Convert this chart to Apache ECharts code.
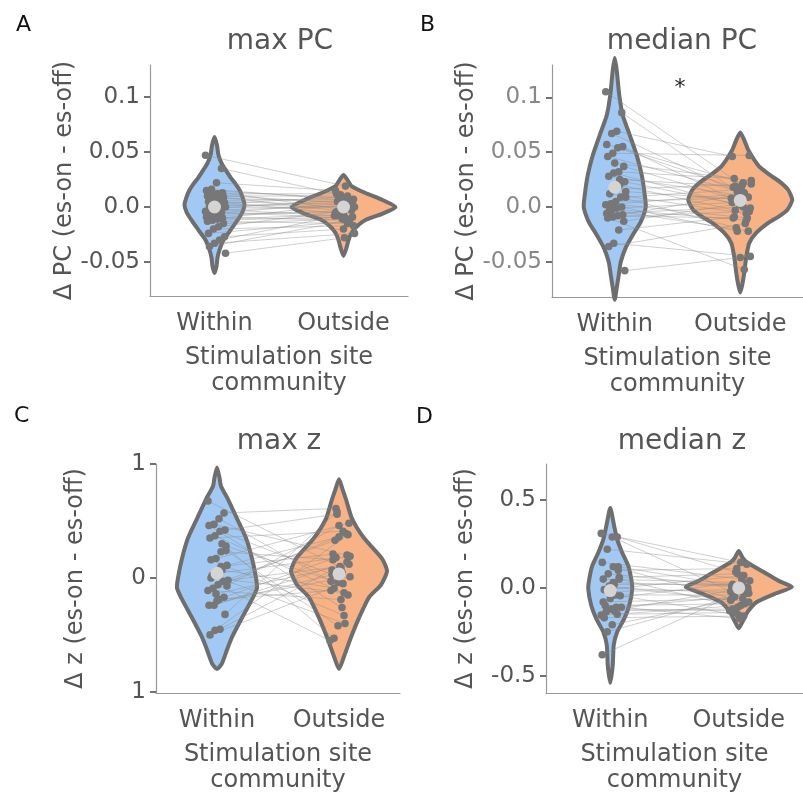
<!DOCTYPE html>
<html>
<head>
<meta charset="utf-8">
<style>
  html, body { margin: 0; padding: 0; background: #fff; }
  #main { width: 803px; height: 795px; }
</style>
<script src="https://cdn.jsdelivr.net/npm/echarts@6/dist/echarts.min.js"></script>
</head>
<body>
<div id="main"></div>
<script>
const categories = ['Within', 'Outside']

// y ticks
const pcTicks = [-0.05, 0, 0.05, 0.1]
const pcTickLabels = ['-0.05', '0.0', '0.05', '0.1']
const maxZTicks = [-1, 0, 1]
const maxZTickLabels = ['1', '0', '1']
const medZTicks = [-0.5, 0, 0.5]
const medZTickLabels = ['-0.5', '0.0', '0.5']

// A: max PC (paired values, es-on minus es-off)
const maxPcWithin = [0.047, 0.035, 0.022, 0.016, 0.015, 0.013, 0.012, 0.011, 0.010, 0.009, 0.008, 0.006, 0.005, 0.004, 0.003, 0.002, 0.001, 0.000, -0.001, -0.002, -0.003, -0.004, -0.005, -0.006, -0.008, -0.009, -0.010, -0.011, -0.012, -0.013, -0.015, -0.018, -0.020, -0.024, -0.027, -0.030, -0.033, -0.036, -0.042]
const maxPcOutside = [0.019, 0.011, 0.015, 0.006, 0.008, -0.002, 0.012, 0.003, 0.010, -0.004, 0.005, 0.007, 0.002, -0.006, 0.009, 0.000, 0.004, -0.001, 0.006, -0.008, 0.001, -0.010, 0.003, -0.005, -0.003, -0.012, 0.002, -0.007, -0.009, -0.015, -0.011, -0.004, -0.017, -0.013, -0.020, -0.008, -0.024, -0.012, -0.028]
const maxPcMeans = [0.000, 0.000]
// violin outlines: value and half width (density)
const maxPcWithinViolinY = [0.0636, 0.056, 0.047, 0.040, 0.034, 0.027, 0.021, 0.0155, 0.009, 0.002, -0.0045, -0.012, -0.021, -0.030, -0.039, -0.046, -0.054, -0.060]
const maxPcWithinViolinW = [0, 2.5, 4, 7, 11, 16, 21, 25, 28, 30, 28, 23, 16, 9, 5, 3, 2, 0]
const maxPcOutsideViolinY = [0.029, 0.0245, 0.019, 0.0127, 0.0064, 0, -0.0064, -0.0118, -0.018, -0.0236, -0.030, -0.037, -0.0445]
const maxPcOutsideViolinW = [0, 4, 8, 22, 39, 52, 38, 22, 13, 8, 5, 3, 0]

// B: median PC
const medPcWithin = [0.105, 0.086, 0.069, 0.067, 0.057, 0.055, 0.054, 0.049, 0.046, 0.037, 0.032, 0.031, 0.028, 0.023, 0.020, 0.016, 0.012, 0.009, 0.009, 0.005, 0.003, 0.002, 0.000, -0.001, -0.003, -0.006, -0.007, -0.008, -0.009, -0.010, -0.013, -0.021, -0.033, -0.036, -0.058, 0.025, 0.040, -0.002, 0.014]
const medPcOutside = [0.020, 0.014, 0.046, 0.009, 0.022, 0.005, 0.018, 0.047, 0.013, 0.006, 0.026, -0.001, 0.010, 0.002, -0.003, 0.021, -0.006, 0.016, -0.019, 0.008, -0.010, 0.012, -0.022, 0.004, -0.022, 0.000, 0.011, -0.010, -0.004, -0.057, 0.003, -0.009, -0.045, -0.015, -0.046, 0.019, 0.024, -0.012, 0.007]
const medPcMeans = [0.018, 0.006]
const medPcWithinViolinY = [0.136, 0.1245, 0.102, 0.0836, 0.0655, 0.047, 0.029, 0.011, 0, -0.0136, -0.0255, -0.037, -0.050, -0.062, -0.0736, -0.0845]
const medPcWithinViolinW = [0, 2, 4.5, 8, 15, 22, 27, 30, 31, 26, 18, 11, 6, 4, 2, 0]
const medPcOutsideViolinY = [0.068, 0.061, 0.052, 0.043, 0.036, 0.029, 0.0227, 0.0155, 0.0064, -0.0027, -0.009, -0.0145, -0.0236, -0.0327, -0.0455, -0.060, -0.071, -0.078]
const medPcOutsideViolinW = [0, 4, 8, 14, 20, 30, 40, 48, 52, 47, 38, 28, 16, 9, 6, 4, 2, 0]

// C: max z
const maxZWithin = [0.675, 0.57, 0.52, 0.47, 0.46, 0.42, 0.41, 0.37, 0.35, 0.28, 0.23, 0.17, 0.16, 0.11, 0.07, 0.04, 0.02, -0.02, -0.03, -0.06, -0.09, -0.11, -0.17, -0.19, -0.24, -0.24, -0.32, -0.45, -0.46, -0.50, 0.24, 0.10, -0.14, 0.00, -0.07, 0.30, -0.20]
const maxZOutside = [0.09, 0.61, -0.03, 0.20, -0.26, 0.56, 0.03, -0.15, 0.41, -0.04, 0.16, 0.48, -0.33, 0.36, -0.09, 0.19, -0.40, 0.10, 0.33, -0.55, 0.39, -0.19, 0.18, -0.11, 0.14, 0.05, 0.58, 0.07, 0.38, -0.05, -0.42, 0.21, 0.12, -0.13, 0.46, -0.53, 0.01]
const maxZMeans = [0.04, 0.035]
const maxZWithinViolinY = [0.97, 0.88, 0.805, 0.69, 0.52, 0.35, 0.17, 0.0, -0.087, -0.17, -0.35, -0.52, -0.63, -0.75, -0.80]
const maxZWithinViolinW = [0, 2.5, 4, 11, 20, 29, 35, 39, 40, 36, 25, 15, 10, 5, 0]
const maxZOutsideViolinY = [0.866, 0.78, 0.69, 0.52, 0.35, 0.17, 0.06, -0.06, -0.17, -0.35, -0.52, -0.69, -0.80]
const maxZOutsideViolinW = [0, 3.5, 7, 13, 25, 43, 48, 42, 30, 20, 12, 5, 0]

// D: median z
const medZWithin = [0.31, 0.29, 0.29, 0.22, 0.145, 0.12, 0.12, 0.08, 0.05, 0.05, 0.02, 0.00, -0.01, -0.045, -0.04, -0.06, -0.10, -0.11, -0.11, -0.12, -0.135, -0.155, -0.15, -0.21, -0.25, -0.38, 0.10, 0.03, -0.02, -0.08, 0.06, -0.13, 0.01, -0.17]
const medZOutside = [0.145, 0.09, -0.02, 0.135, 0.05, 0.01, -0.06, 0.00, 0.03, -0.11, 0.02, -0.03, 0.07, -0.155, -0.04, 0.04, -0.09, -0.175, -0.05, -0.13, 0.00, -0.10, -0.14, -0.07, -0.03, -0.02, 0.11, 0.01, -0.01, -0.06, 0.08, -0.12, -0.08, -0.16]
const medZMeans = [-0.015, 0.0]
const medZWithinViolinY = [0.455, 0.35, 0.275, 0.20, 0.125, 0.05, -0.005, -0.10, -0.175, -0.25, -0.325, -0.44, -0.54]
const medZWithinViolinW = [0, 4, 7, 12, 18, 21, 22, 19, 14, 7, 3.5, 2.5, 0]
const medZOutsideViolinY = [0.21, 0.17, 0.146, 0.09, 0.04, 0.005, -0.034, -0.08, -0.135, -0.19, -0.23]
const medZOutsideViolinW = [0, 4, 8, 25, 40, 53, 36, 18, 9, 4, 0]

const FONT = 'DejaVu Sans'
const TEXT = '#555'
const violinColors = ['#a1c9f4', '#f7b285']

const panels = [
  {
    grid: { left: 150, top: 65, width: 258, height: 231 }, min: -0.0809, max: 0.1291,
    ticks: pcTicks, tickLabels: pcTickLabels, tickColor: TEXT, yName: 'Δ PC (es-on - es-off)',
    within: maxPcWithin, outside: maxPcOutside, means: maxPcMeans,
    violins: [[maxPcWithinViolinY, maxPcWithinViolinW], [maxPcOutsideViolinY, maxPcOutsideViolinW]]
  },
  {
    grid: { left: 552, top: 65, width: 258, height: 232 }, min: -0.082, max: 0.1294,
    ticks: pcTicks, tickLabels: pcTickLabels, tickColor: '#888', yName: 'Δ PC (es-on - es-off)',
    within: medPcWithin, outside: medPcOutside, means: medPcMeans,
    violins: [[medPcWithinViolinY, medPcWithinViolinW], [medPcOutsideViolinY, medPcOutsideViolinW]]
  },
  {
    grid: { left: 156, top: 464, width: 244, height: 232 }, min: -1.01, max: 1.0,
    ticks: maxZTicks, tickLabels: maxZTickLabels, tickColor: TEXT, yName: 'Δ z (es-on - es-off)',
    within: maxZWithin, outside: maxZOutside, means: maxZMeans,
    violins: [[maxZWithinViolinY, maxZWithinViolinW], [maxZOutsideViolinY, maxZOutsideViolinW]]
  },
  {
    grid: { left: 546, top: 464, width: 270, height: 231 }, min: -0.598, max: 0.705,
    ticks: medZTicks, tickLabels: medZTickLabels, tickColor: TEXT, yName: 'Δ z (es-on - es-off)',
    within: medZWithin, outside: medZOutside, means: medZMeans,
    violins: [[medZWithinViolinY, medZWithinViolinW], [medZOutsideViolinY, medZOutsideViolinW]]
  }
]

// strip jitter in px (fixed pattern, not data)
function jit(i, g) {
  return ((i * 37 + g * 11) % 21) - 9
}

const grids = []
const xAxes = []
const yAxes = []
const series = []

panels.forEach((p, k) => {
  grids.push(Object.assign({ containLabel: false }, p.grid))
  xAxes.push({
    gridIndex: k,
    type: 'category',
    data: categories,
    boundaryGap: true,
    axisLine: { onZero: false, lineStyle: { color: '#999', width: 1.2 } },
    axisTick: { alignWithLabel: true, length: 6, lineStyle: { color: '#333', width: 1.5 } },
    axisLabel: { fontSize: 24, color: TEXT, margin: 16, fontFamily: FONT },
    splitLine: { show: false },
    name: 'Stimulation site\ncommunity',
    nameLocation: 'middle',
    nameGap: 49,
    nameTextStyle: { fontSize: 24, color: TEXT, lineHeight: 26, fontFamily: FONT }
  })
  yAxes.push({
    gridIndex: k,
    type: 'value',
    min: p.min,
    max: p.max,
    axisLine: { show: true, lineStyle: { color: '#999', width: 1.2 } },
    axisTick: { show: true, customValues: p.ticks, length: 6, lineStyle: { color: '#444', width: 1.5 } },
    axisLabel: {
      customValues: p.ticks,
      fontSize: 23,
      color: p.tickColor,
      margin: 10,
      fontFamily: FONT,
      formatter(v) {
        const idx = p.ticks.findIndex(t => Math.abs(t - v) < 1e-9)
        return idx >= 0 ? p.tickLabels[idx] : ''
      }
    },
    splitLine: { show: false },
    name: p.yName,
    nameLocation: 'middle',
    nameRotate: 90,
    nameGap: 68,
    nameTextStyle: { fontSize: 24, color: TEXT, fontFamily: FONT }
  })

  // violins
  series.push({
    type: 'custom',
    xAxisIndex: k,
    yAxisIndex: k,
    silent: true,
    z: 2,
    data: [[0, 0], [1, 0]],
    renderItem(params, api) {
      const g = params.dataIndex
      const ys = p.violins[g][0]
      const ws = p.violins[g][1]
      const pts = []
      for (let i = 0; i < ys.length; i++) {
        const c = api.coord([g, ys[i]])
        pts.push([c[0] + ws[i], c[1]])
      }
      for (let i = ys.length - 1; i >= 0; i--) {
        if (ws[i] === 0) continue
        const c = api.coord([g, ys[i]])
        pts.push([c[0] - ws[i], c[1]])
      }
      return {
        type: 'polygon',
        shape: { points: pts, smooth: 0.2 },
        style: { fill: violinColors[g], stroke: '#6e6e6e', lineWidth: 4, lineJoin: 'round' }
      }
    }
  })

  // paired lines
  series.push({
    type: 'custom',
    xAxisIndex: k,
    yAxisIndex: k,
    silent: true,
    z: 3,
    data: p.within.map(w => [0, w]),
    renderItem(params, api) {
      const i = params.dataIndex
      const a = api.coord([0, p.within[i]])
      const b = api.coord([1, p.outside[i]])
      return {
        type: 'line',
        shape: { x1: a[0] + jit(i, 0), y1: a[1], x2: b[0] + jit(i, 1), y2: b[1] },
        style: { stroke: 'rgba(140,140,140,0.6)', lineWidth: 0.7 }
      }
    }
  })

  // points
  const pts = p.within.map((w, i) => [0, w, i]).concat(p.outside.map((o, i) => [1, o, i]))
  series.push({
    type: 'custom',
    xAxisIndex: k,
    yAxisIndex: k,
    silent: true,
    z: 4,
    data: pts,
    renderItem(params, api) {
      const g = api.value(0)
      const c = api.coord([g, api.value(1)])
      return {
        type: 'circle',
        shape: { cx: c[0] + jit(api.value(2), g), cy: c[1], r: 3.8 },
        style: { fill: '#777' }
      }
    }
  })

  // means
  series.push({
    type: 'custom',
    xAxisIndex: k,
    yAxisIndex: k,
    silent: true,
    z: 5,
    data: p.means.map((m, g) => [g, m]),
    renderItem(params, api) {
      const c = api.coord([api.value(0), api.value(1)])
      return { type: 'circle', shape: { cx: c[0], cy: c[1], r: 6.5 }, style: { fill: '#d4d4d4' } }
    }
  })
})

const titles = [
  { text: 'max PC', x: 280, y: 42 },
  { text: 'median PC', x: 682, y: 42 },
  { text: 'max z', x: 279, y: 442 },
  { text: 'median z', x: 682, y: 442 }
]
const letters = [
  { text: 'A', x: 16, y: 25 },
  { text: 'B', x: 420, y: 25 },
  { text: 'C', x: 14, y: 416 },
  { text: 'D', x: 416, y: 417 }
]

const graphic = []
titles.forEach(t => graphic.push({
  type: 'text', x: t.x, y: t.y, silent: true,
  style: { text: t.text, font: '28px "DejaVu Sans"', fill: TEXT, align: 'center', verticalAlign: 'middle' }
}))
letters.forEach(t => graphic.push({
  type: 'text', x: t.x, y: t.y, silent: true,
  style: { text: t.text, font: '22px "DejaVu Sans"', fill: '#111', align: 'left', verticalAlign: 'middle' }
}))
graphic.push({
  type: 'text', x: 680, y: 88, silent: true,
  style: { text: '*', font: '22px "DejaVu Sans"', fill: '#222', align: 'center', verticalAlign: 'middle' }
})

const chart = echarts.init(document.getElementById('main'))
chart.setOption({
  animation: false,
  backgroundColor: '#fff',
  textStyle: { fontFamily: FONT },
  grid: grids,
  xAxis: xAxes,
  yAxis: yAxes,
  series: series,
  graphic: graphic
})
</script>
</body>
</html>
